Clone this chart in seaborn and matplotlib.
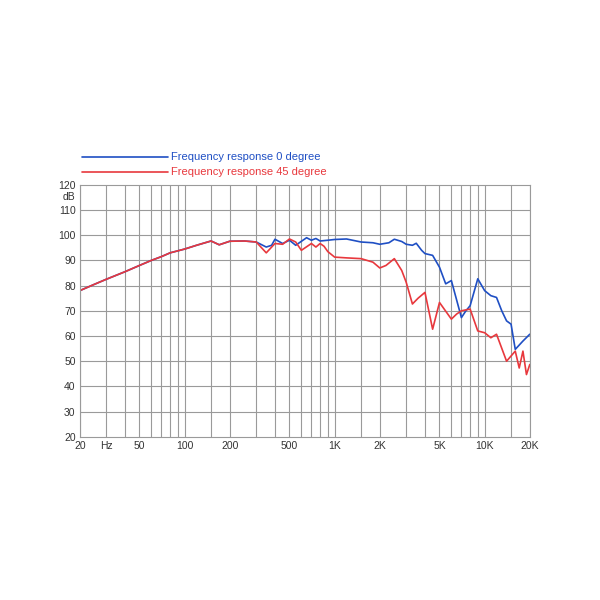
import matplotlib
matplotlib.use("Agg")
import matplotlib.pyplot as plt
import seaborn as sns
import pandas as pd

sns.set_theme(style="white")
plt.rcParams['font.family'] = ['Liberation Sans', 'DejaVu Sans']

common_f = [20, 25, 30, 40, 50, 60, 70, 80, 100, 120, 150, 170, 200, 250, 300]
common_db = [78, 80.5, 82.5, 85.5, 88, 90, 91.5, 93, 94.5, 96, 97.7, 96.2, 97.6, 97.7, 97.3]

blue_f = [350, 380, 400, 450, 500, 550, 650, 700, 750, 800, 900, 1000, 1200, 1500, 1800, 2000, 2300, 2500,
          2800, 3000, 3300, 3500, 3800, 4000, 4500, 5000, 5500, 6000, 7000, 7500, 8000, 9000, 10000,
          11000, 12000, 13000, 14000, 15000, 16000, 18000, 20000]
blue_db = [95.3, 96, 98.4, 96.7, 98, 96, 99, 98, 98.7, 97.7, 98, 98.3, 98.5, 97.3, 97, 96.4, 97, 98.4,
           97.5, 96.4, 96, 96.8, 94, 92.7, 92, 87.3, 80.7, 82, 67.3, 70, 72, 82.7, 78, 76, 75.3, 70,
           66, 64.7, 54.7, 58, 60.7]

red_f = [350, 400, 450, 500, 550, 600, 700, 750, 800, 850, 900, 1000, 1200, 1500, 1800, 2000, 2200, 2500,
         2800, 3000, 3300, 3600, 4000, 4500, 5000, 6000, 6500, 7000, 8000, 9000, 10000, 11000, 12000,
         14000, 16000, 17000, 18000, 19000, 20000]
red_db = [93, 96.7, 96.4, 98.5, 97.3, 94, 96.7, 95.3, 96.7, 95.6, 93.5, 91.3, 91, 90.7, 89.3, 87, 88, 90.7,
          86, 81.3, 72.7, 75, 77.3, 62.7, 73.3, 66.7, 68.7, 70, 70.7, 62, 61.3, 59.3, 60.7,
          50, 54, 47.3, 54, 44.7, 48.7]

df = pd.concat([
    pd.DataFrame({"f": common_f + blue_f, "db": common_db + blue_db, "s": "0"}),
    pd.DataFrame({"f": common_f + red_f, "db": common_db + red_db, "s": "45"}),
])

fig = plt.figure(figsize=(6, 6), dpi=100)
ax = fig.add_axes([0.133, 0.272, 0.75, 0.42])
sns.lineplot(data=df, x="f", y="db", hue="s", palette={"0": "#1f4fc4", "45": "#e8383d"},
             ax=ax, legend=False, linewidth=1.2, sort=False)
ax.set_xscale("log")
ax.set_xlim(20, 20000)
ax.set_ylim(20, 120)
grid_f = [20, 30, 40, 50, 60, 70, 80, 90, 100, 150, 200, 300, 400, 500, 600, 700, 800, 900,
          1000, 1500, 2000, 3000, 4000, 5000, 6000, 7000, 8000, 9000, 10000, 15000, 20000]
for g in grid_f:
    ax.axvline(g, color="#9a9a9a", lw=0.8, zorder=0)
for y in range(30, 120, 10):
    ax.axhline(y, color="#9a9a9a", lw=0.8, zorder=0)
tick_f = [20, 30, 50, 100, 200, 500, 1000, 2000, 5000, 10000, 20000]
tick_l = ["20", "Hz", "50", "100", "200", "500", "1K", "2K", "5K", "10K", "20K"]
ax.set_xticks(tick_f)
ax.set_xticklabels(tick_l)
ax.set_xticks([], minor=True)
ax.set_yticks(range(20, 121, 10))
ax.tick_params(labelsize=7.5, length=0, pad=3, colors="#333333")
ax.text(-0.01, 0.95, "dB", transform=ax.transAxes, ha="right", va="center", fontsize=7.5, color="#333333")
ax.set_xlabel("")
ax.set_ylabel("")
for s in ax.spines.values():
    s.set_color("#9a9a9a")
    s.set_linewidth(0.8)

fig.lines.append(plt.Line2D([0.137, 0.28], [0.738, 0.738], color="#1f4fc4", lw=1.2, transform=fig.transFigure))
fig.lines.append(plt.Line2D([0.137, 0.28], [0.713, 0.713], color="#e8383d", lw=1.2, transform=fig.transFigure))
fig.text(0.285, 0.738, "Frequency response 0 degree", color="#1f4fc4", fontsize=8, va="center")
fig.text(0.285, 0.713, "Frequency response 45 degree", color="#e8383d", fontsize=8, va="center")

fig.savefig("out.png", dpi=100, facecolor="white")
